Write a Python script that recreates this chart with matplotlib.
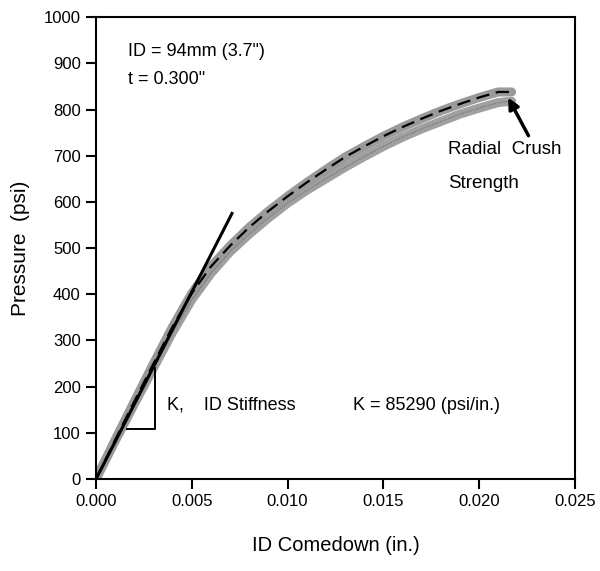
import matplotlib.pyplot as plt
import numpy as np

plt.rcParams["font.family"] = ["Liberation Sans", "DejaVu Sans"]

# ID comedown (in.) and pressure (psi)
comedown = [0, 0.001, 0.002, 0.003, 0.004, 0.005, 0.006, 0.007, 0.008, 0.009,
            0.010, 0.011, 0.012, 0.013, 0.014, 0.015, 0.016, 0.017, 0.018,
            0.019, 0.020, 0.021, 0.0217]
p_upper = [0, 85, 168, 250, 330, 402, 460, 505, 545, 580, 612, 642, 670, 697,
           720, 742, 762, 780, 797, 812, 826, 838, 838]
p_lower = [0, 82, 162, 240, 318, 388, 445, 492, 530, 565, 597, 625, 650, 675,
           698, 720, 740, 758, 774, 790, 803, 815, 818]

# stiffness tangent and slope triangle
tangent_x = [0, 0.0071]
tangent_y = [0, 575]
tri_x = [0.0016, 0.0031, 0.0031]
tri_y = [108, 108, 240]

fig = plt.figure(figsize=(6, 5.71), dpi=100)
ax = fig.add_axes([0.16, 0.161, 0.798, 0.809])

ax.plot(comedown, p_lower, color="#a0a0a0", lw=6.5, solid_capstyle="round")
ax.plot(comedown, p_upper, color="#9a9a9a", lw=6.5, solid_capstyle="round")
ax.plot(comedown, p_lower, color="#707070", lw=0.8, ls=(0, (1, 1)))
ax.plot(comedown, p_upper, color="k", lw=1.6, ls=(0, (6, 3)))

ax.plot(tangent_x, tangent_y, color="k", lw=2.2)
ax.plot(tri_x, tri_y, color="k", lw=1.4)

ax.annotate("", xy=(0.02145, 831), xytext=(0.02265, 738),
            arrowprops=dict(arrowstyle="-|>", color="k", lw=2.5,
                            mutation_scale=16))

fs = 13
ax.text(0.00165, 926, "ID = 94mm (3.7\")", fontsize=fs, va="center")
ax.text(0.00168, 864, "t = 0.300\"", fontsize=fs, va="center")
ax.text(0.0184, 713, "Radial  Crush", fontsize=13.5, va="center", clip_on=False)
ax.text(0.0184, 640, "Strength", fontsize=13.5, va="center")
ax.text(0.0037, 160, "K,    ID Stiffness", fontsize=fs, va="center")
ax.text(0.0134, 160, "K = 85290 (psi/in.)", fontsize=fs, va="center")

ax.set_xlim(0, 0.025)
ax.set_ylim(0, 1000)
ax.set_xticks(np.arange(0, 0.0251, 0.005))
ax.set_yticks(np.arange(0, 1001, 100))
ax.set_xticklabels(["0.000", "0.005", "0.010", "0.015", "0.020", "0.025"])
ax.tick_params(direction="out", length=7, width=1.5, labelsize=12, pad=4)
for s in ax.spines.values():
    s.set_linewidth(1.5)

ax.set_xlabel("ID Comedown (in.)", fontsize=14.5, labelpad=19)
ax.set_ylabel("Pressure  (psi)", fontsize=15, labelpad=10)

fig.savefig("out.png", dpi=100)
